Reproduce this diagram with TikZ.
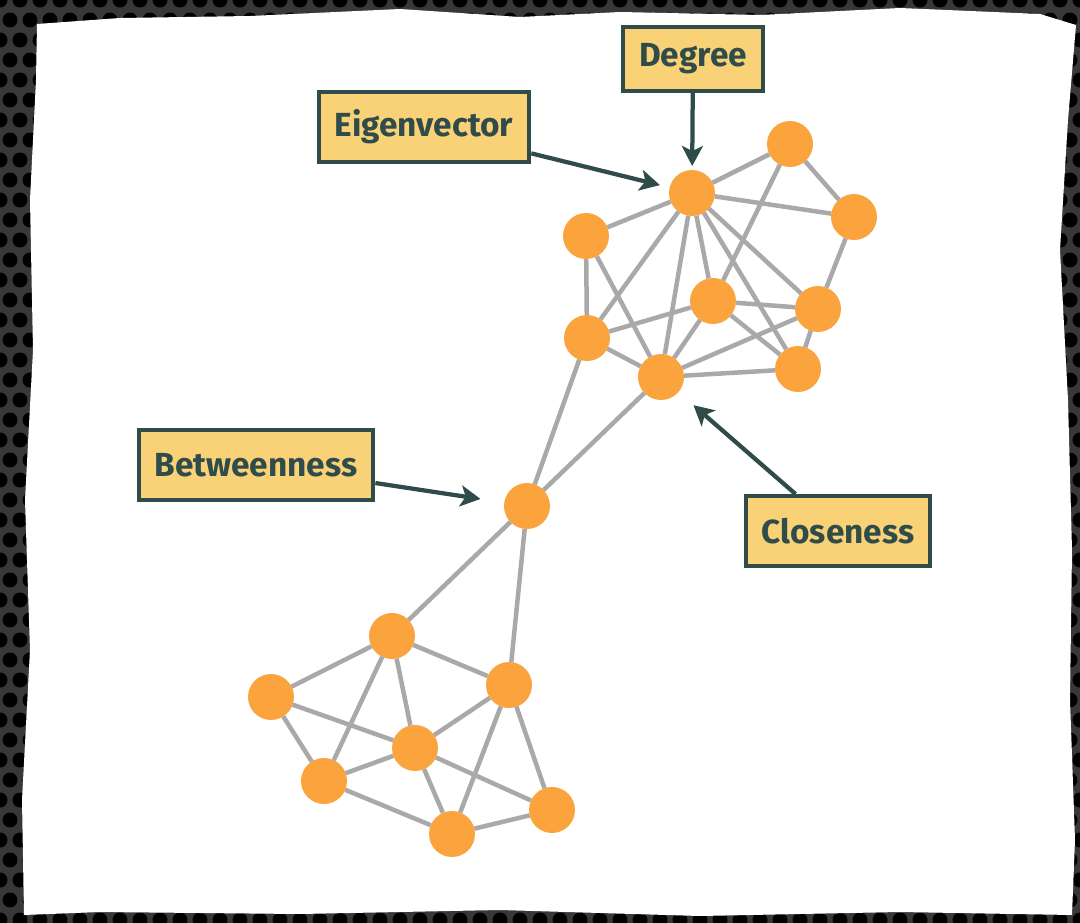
\documentclass[tikz,border=0pt]{standalone}
\usepackage{fontspec}
\setmainfont{Fira Sans}
\usetikzlibrary{arrows.meta}
\definecolor{vertexorange}{HTML}{FBA43E}
\definecolor{edgegray}{HTML}{A9A9A9}
\definecolor{labelfill}{HTML}{F9D278}
\definecolor{labeldark}{HTML}{2F4B4A}
\definecolor{backdrop}{HTML}{383838}
\tikzset{
  vertex/.style={circle, fill=vertexorange, minimum size=0.92cm, inner sep=0pt, outer sep=0pt},
  edge/.style={draw=edgegray, line width=0.09cm},
  measure/.style={draw=labeldark, line width=0.08cm, fill=labelfill, text=labeldark,
    font=\fontsize{19}{22}\selectfont\bfseries, minimum height=1.4cm, inner xsep=0.32cm},
  pointer/.style={draw=labeldark, line width=0.085cm,
    -{Stealth[length=0.4cm, width=0.42cm, inset=0.1cm]}}
}
\begin{document}
\begin{tikzpicture}[x=0.02cm, y=-0.02cm]
  \useasboundingbox (0,0) rectangle (1080,923);
  % torn paper on a perforated backdrop
  \fill[backdrop] (0,0) rectangle (1080,923);
  \foreach \i in {0,...,54}
    \foreach \j in {0,...,46}
      \fill[black] ({\i*20+mod(\j,2)*10}, \j*20) circle (0.15cm);
  \fill[white] (37,24) -- (120,18) -- (250,16) -- (400,9) -- (520,17) -- (620,12)
    -- (760,15) -- (900,8) -- (1040,14) -- (1076,25) -- (1068,120) -- (1060,250)
    -- (1068,400) -- (1072,550) -- (1070,700) -- (1075,840) -- (1072,915)
    -- (900,912) -- (700,916) -- (500,910) -- (300,914) -- (100,912) -- (24,915)
    -- (22,800) -- (30,650) -- (25,500) -- (33,350) -- (30,200) -- (36,80) -- cycle;

  % upper cluster
  \node[vertex] (hub) at (692,193) {};
  \node[vertex] (ne) at (790,144) {};
  \node[vertex] (east) at (854,217) {};
  \node[vertex] (west) at (586,236) {};
  \node[vertex] (mid) at (713,301) {};
  \node[vertex] (se) at (818,309) {};
  \node[vertex] (sw) at (587,338) {};
  \node[vertex] (close) at (661,377) {};
  \node[vertex] (low) at (798,369) {};

  % bridge
  \node[vertex] (bridge) at (527,506) {};

  % lower cluster
  \node[vertex] (top) at (392,636) {};
  \node[vertex] (right) at (509,685) {};
  \node[vertex] (left) at (271,697) {};
  \node[vertex] (centre) at (415,748) {};
  \node[vertex] (lleft) at (324,781) {};
  \node[vertex] (bottom) at (452,834) {};
  \node[vertex] (lright) at (552,810) {};

  \draw[edge] (hub) -- (ne) (hub) -- (east) (hub) -- (west) (hub) -- (sw) (hub) -- (close);
  \draw[edge] (hub) -- (mid) (hub) -- (se) (hub) -- (low) (ne) -- (east) (ne) -- (mid);
  \draw[edge] (east) -- (se) (west) -- (sw) (west) -- (close) (sw) -- (mid) (sw) -- (close);
  \draw[edge] (mid) -- (se) (mid) -- (close) (mid) -- (low) (close) -- (se) (close) -- (low);
  \draw[edge] (se) -- (low) (sw) -- (bridge) (close) -- (bridge);
  \draw[edge] (bridge) -- (top) (bridge) -- (right) (top) -- (left) (top) -- (right);
  \draw[edge] (top) -- (lleft) (top) -- (centre) (left) -- (centre) (left) -- (lleft);
  \draw[edge] (lleft) -- (centre) (lleft) -- (bottom) (centre) -- (bottom) (centre) -- (lright);
  \draw[edge] (right) -- (centre) (right) -- (bottom) (right) -- (lright) (bottom) -- (lright);

  % labels
  \node[measure, minimum height=1.28cm] (degree) at (693,59) {Degree};
  \node[measure] (eigen) at (424,127) {Eigenvector};
  \node[measure] (between) at (256,465) {Betweenness};
  \node[measure] (closeness) at (838,531) {Closeness};

  \draw[pointer, shorten >=0.08cm] (degree) to (hub);
  \draw[pointer, shorten >=0.2cm] (eigen) to (hub);
  \draw[pointer, shorten >=0.48cm] (between) to (bridge);
  \draw[pointer, shorten >=0.4cm] (closeness) to (close);
\end{tikzpicture}
\end{document}
